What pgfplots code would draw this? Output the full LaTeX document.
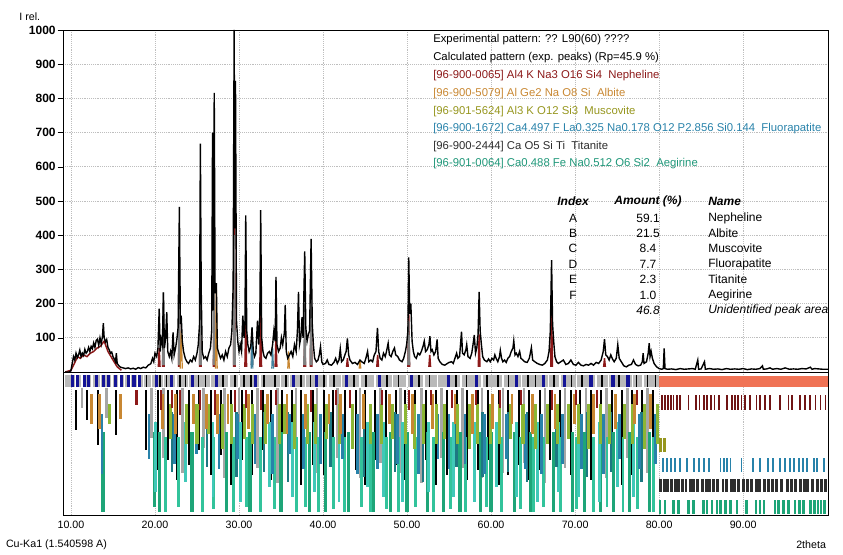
\documentclass[border=0pt]{standalone}
\usepackage{fontspec}
\setmainfont{Liberation Sans}
\usepackage{pgfplots}
\pgfplotsset{compat=1.18}
\definecolor{nephred}{RGB}{140,25,25}
\definecolor{albor}{RGB}{200,135,50}
\definecolor{muscol}{RGB}{150,150,30}
\definecolor{muscgr}{RGB}{140,182,52}
\definecolor{fluorbl}{RGB}{40,130,170}
\definecolor{titan}{RGB}{45,45,45}
\definecolor{aegir}{RGB}{30,165,120}
\definecolor{aegir2}{RGB}{50,195,155}
\definecolor{darkteal}{RGB}{30,120,130}
\definecolor{aegirtxt}{RGB}{30,150,120}
\definecolor{cyant}{RGB}{64,200,184}
\definecolor{salm}{RGB}{240,115,85}
\definecolor{expbl}{RGB}{20,20,150}
\definecolor{gridc}{RGB}{190,190,190}
\pgfplotsset{
  stick/.style n args={2}{draw=none, mark=none, forget plot,
    error bars/.cd, y dir=plus, y explicit, error mark=none,
    error bar style={draw=#1, line width=#2, solid}},
}
\begin{document}
\begin{tikzpicture}
\path[use as bounding box] (0,0) rectangle (632.25pt,415.5pt);
% ---------------- upper panel ----------------
\begin{axis}[
  at={(47.25pt,393pt)}, anchor=north west,
  scale only axis, width=573.75pt, height=256.5pt,
  xmin=9.05, xmax=100.1, ymin=0, ymax=1000,
  xtick={10,20,...,90}, xticklabels={}, xtick style={draw=none},
  ytick={100,200,...,1000},
  yticklabels={100,200,300,400,500,600,700,800,900,1000},
  ytick pos=left, tick align=outside, major tick length=4pt,
  ytick style={black, thin},
  yticklabel style={font=\fontsize{9}{10}\selectfont\bfseries, xshift=2pt},
  grid=major, grid style={densely dotted, gridc, line width=0.6pt},
  axis line style={black, line width=0.6pt},
  unbounded coords=jump,
]
% calculated pattern (dark red)
\addplot[nephred, line width=1.1pt] table {
9.3 0
10.0 5
10.5 30
10.8 45
11.1 40
11.5 50
11.9 45
12.3 55
12.7 60
13.1 70
13.5 75
13.95 90
14.4 60
15.0 35
15.5 15
16.0 5
nan nan
20.4 15
20.5 70
20.6 15
nan nan
20.9 15
21.0 120
21.1 15
nan nan
22.8 15
22.9 180
23.0 15
nan nan
25.3 15
25.4 170
25.5 15
nan nan
26.95 15
27.05 240
27.15 15
nan nan
29.35 15
29.45 500
29.55 15
nan nan
30.7 15
30.8 150
30.9 15
nan nan
32.48 15
32.58 200
32.68 15
nan nan
34.3 15
34.4 110
34.5 15
nan nan
37.72 15
37.82 90
37.92 15
nan nan
38.48 15
38.58 230
38.68 15
nan nan
42.8 15
42.9 40
43.0 15
nan nan
46.4 15
46.5 50
46.6 15
nan nan
50.1 15
50.2 170
50.3 15
nan nan
52.6 15
52.7 50
52.8 15
nan nan
58.48 15
58.58 110
58.68 15
nan nan
67.1 15
67.2 200
67.3 15
nan nan
73.4 15
73.5 40
73.6 15
};
% grey calculated spikes
\addplot[gray, line width=1.1pt] table {
20.9 20
21.0 233
21.1 20
nan nan
22.8 20
22.9 300
23.0 20
nan nan
25.3 20
25.4 250
25.5 20
nan nan
26.95 20
27.05 300
27.15 20
nan nan
29.35 20
29.45 400
29.55 20
nan nan
31.45 20
31.55 130
31.65 20
nan nan
37.72 20
37.82 200
37.92 20
nan nan
38.48 20
38.58 250
38.68 20
nan nan
50.1 20
50.2 150
50.3 20
};
% orange / blue-grey small calculated peaks
\addplot[albor, line width=0.9pt] table {
23.0 10
23.12 120
23.25 10
nan nan
27.2 10
27.3 260
27.4 10
nan nan
35.8 10
35.9 60
36.0 10
nan nan
44.3 10
44.4 35
44.5 10
};
\addplot[fluorbl!70!gray, line width=0.9pt] table {
31.45 10
31.55 130
31.65 10
nan nan
33.9 10
34.0 70
34.1 10
};
% experimental pattern (black)
\addplot[black, line width=1.05pt] table {
9.3 0
9.8 0
10.0 5
10.15 25
10.3 45
10.45 35
10.6 55
10.75 42
10.9 50
11.05 64
11.2 45
11.35 55
11.5 48
11.65 66
11.8 55
11.95 60
12.1 72
12.25 60
12.4 75
12.55 68
12.7 85
12.85 72
13.0 92
13.15 96
13.3 78
13.45 100
13.6 82
13.75 105
13.85 143
13.95 100
14.1 88
14.25 95
14.4 72
14.55 65
14.7 55
14.85 58
15.0 45
15.15 38
15.3 30
15.4 55
15.5 25
15.7 18
15.9 14
16.2 12
16.5 10
16.8 12
17.1 9
17.4 11
17.7 8
18.0 13
18.3 10
18.6 14
18.9 12
19.2 20
19.5 24
19.7 40
19.85 30
20.0 55
20.2 45
20.35 70
20.5 185
20.62 60
20.75 95
20.88 80
21.0 233
21.12 70
21.25 95
21.4 175
21.52 60
21.7 45
21.85 60
22.0 40
22.15 116
22.28 50
22.45 70
22.6 95
22.75 130
22.9 483
23.02 140
23.12 165
23.25 90
23.4 60
23.6 40
23.8 30
24.0 25
24.2 35
24.4 30
24.6 45
24.8 35
25.0 55
25.15 80
25.3 140
25.4 668
25.5 240
25.62 60
25.8 40
26.0 45
26.2 35
26.4 55
26.6 70
26.75 120
26.85 700
26.95 180
27.05 816
27.15 230
27.3 260
27.42 70
27.6 55
27.8 40
28.0 50
28.2 35
28.4 60
28.6 45
28.8 70
29.0 80
29.15 120
29.3 250
29.42 1000
29.5 420
29.58 851
29.7 150
29.85 90
30.0 60
30.15 80
30.3 60
30.45 165
30.6 100
30.7 130
30.8 458
30.92 120
31.05 80
31.2 60
31.4 75
31.55 130
31.7 60
31.85 45
32.0 55
32.2 150
32.35 80
32.48 170
32.58 473
32.7 100
32.85 60
33.0 45
33.2 40
33.4 55
33.6 60
33.8 50
34.0 80
34.15 120
34.3 90
34.4 278
34.52 80
34.7 60
34.9 70
35.05 100
35.2 80
35.4 115
35.5 196
35.62 60
35.8 40
36.0 50
36.2 60
36.4 45
36.6 80
36.8 60
36.95 120
37.08 234
37.2 80
37.35 100
37.5 160
37.62 100
37.82 353
37.95 130
38.1 90
38.25 110
38.4 120
38.58 389
38.72 140
38.85 80
39.0 40
39.2 30
39.4 35
39.55 50
39.7 74
39.85 30
40.0 22
40.3 25
40.5 35
40.7 22
41.0 20
41.3 28
41.5 40
41.7 25
41.9 35
42.05 68
42.2 30
42.4 35
42.6 50
42.75 60
42.9 98
43.05 50
43.2 35
43.5 25
43.8 28
44.1 22
44.4 35
44.6 30
44.9 25
45.1 40
45.3 60
45.45 30
45.7 35
45.9 30
46.1 50
46.3 60
46.48 129
46.62 60
46.8 40
47.0 35
47.2 55
47.4 45
47.55 60
47.75 84
47.9 50
48.1 45
48.3 60
48.5 70
48.65 50
48.9 45
49.1 35
49.4 30
49.6 40
49.8 60
49.95 80
50.1 120
50.2 335
50.32 170
50.45 200
50.6 90
50.75 60
50.9 45
51.1 40
51.3 55
51.5 50
51.7 60
51.9 75
52.05 90
52.2 60
52.4 65
52.6 80
52.72 105
52.85 60
53.0 65
53.2 50
53.4 60
53.58 95
53.7 40
53.9 30
54.2 22
54.5 20
54.8 25
55.0 28
55.3 30
55.5 25
55.7 40
55.9 55
56.05 40
56.25 45
56.48 118
56.6 55
56.8 50
57.0 65
57.1 80
57.25 45
57.5 40
57.7 55
57.85 80
58.0 108
58.15 55
58.3 70
58.45 110
58.58 234
58.7 120
58.85 80
59.0 45
59.2 35
59.5 30
59.7 38
59.9 30
60.1 40
60.3 35
60.45 50
60.6 40
60.8 30
61.0 45
61.1 63
61.25 40
61.4 30
61.6 35
61.8 28
62.0 40
62.2 45
62.4 60
62.6 70
62.7 91
62.85 50
63.0 55
63.2 45
63.4 60
63.55 40
63.8 35
64.0 30
64.3 28
64.55 40
64.8 71
64.95 35
65.2 30
65.5 25
65.8 22
66.1 20
66.4 25
66.7 35
66.9 60
67.05 120
67.2 327
67.32 140
67.45 90
67.6 45
67.8 30
68.0 25
68.3 30
68.6 35
68.9 22
69.2 25
69.5 35
69.8 22
70.1 20
70.4 28
70.7 20
71.0 18
71.3 22
71.6 20
71.9 25
72.2 20
72.5 28
72.8 25
73.1 35
73.35 60
73.5 96
73.65 50
73.85 45
74.05 35
74.25 50
74.45 38
74.65 30
74.9 40
75.08 80
75.25 40
75.5 30
75.8 18
76.1 15
76.4 20
76.7 22
76.95 35
77.2 22
77.5 18
77.8 20
78.0 30
78.1 55
78.2 25
78.5 30
78.7 55
78.82 84
78.92 45
79.05 60
79.2 40
79.4 25
79.7 15
80.0 10
80.3 8
80.5 10
80.6 69
80.7 10
81.0 8
81.5 9
82.0 7
82.5 10
83.0 8
83.5 9
84.0 10
84.3 8
84.6 35
84.7 8
85.0 9
85.4 30
85.5 8
86.0 10
86.5 8
87.0 9
87.5 7
88.0 10
88.5 8
89.0 9
89.5 8
90.0 10
90.5 7
91.0 9
91.5 8
92.0 10
92.3 18
92.4 8
92.8 9
93.2 12
93.5 8
94.0 10
94.5 8
95.0 12
95.5 8
96.0 9
96.5 8
97.0 10
97.5 9
98.0 14
98.2 8
98.5 10
99.0 9
99.5 8
100.1 8
};
\end{axis}
% ---------------- lower panel (peak markers) ----------------
\begin{axis}[
  at={(47.25pt,136.5pt)}, anchor=north west,
  scale only axis, width=573.75pt, height=107.25pt,
  xmin=9.05, xmax=100.1, ymin=0, ymax=143, y dir=reverse,
  xtick={10,20,...,90},
  xticklabels={10.00,20.00,30.00,40.00,50.00,60.00,70.00,80.00,90.00},
  xticklabel style={font=\fontsize{8}{9}\selectfont, yshift=-1pt},
  major tick length=0pt, ytick=\empty,
  xmajorgrids, grid style={densely dotted, gridc, line width=0.6pt},
  axis line style={black, line width=0.6pt},
]
% row 1: experimental peak positions
\addplot[fill=gray!55, draw=none, forget plot] coordinates {(9.3,3) (80,3) (80,15) (9.3,15)} -- cycle;
\addplot[fill=salm, draw=none, forget plot] coordinates {(80,4) (100.1,4) (100.1,15) (80,15)} -- cycle;
\addplot[stick={expbl}{2.4pt}] table[x index=0, y expr=3, y error index=1] {
10.2 12
10.8 12
11.6 12
12.1 12
13.0 12
13.9 12
14.5 12
15.3 12
16.0 12
16.8 12
17.5 12
18.2 12
20.2 12
22.0 12
24.5 12
27.3 12
32.0 12
36.5 12
39.2 12
42.8 12
46.7 12
50.5 12
54.9 12
58.3 12
63.0 12
66.2 12
68.7 12
71.9 12
74.5 12
76.3 12
};
\addplot[stick={black}{1.1pt}] table[x index=0, y expr=3, y error index=1] {
19.0 12
20.6 12
21.4 12
23.0 12
23.6 12
25.2 12
26.0 12
28.1 12
29.5 12
30.6 12
31.4 12
33.0 12
34.3 12
35.6 12
37.4 12
38.5 12
40.1 12
41.3 12
43.7 12
45.1 12
47.6 12
49.0 12
51.4 12
52.7 12
55.8 12
57.1 12
59.5 12
60.8 12
62.1 12
64.4 12
65.3 12
67.5 12
69.6 12
70.8 12
73.2 12
75.2 12
77.3 12
78.6 12
79.6 12
};
\addplot[stick={white}{1pt}] table[x index=0, y expr=3, y error index=1] {
10.5 12
11.3 12
12.5 12
13.5 12
14.9 12
15.7 12
16.4 12
17.1 12
17.9 12
18.6 12
19.6 12
21.0 12
22.5 12
24.0 12
26.6 12
28.8 12
30.0 12
32.5 12
34.9 12
36.0 12
37.9 12
40.6 12
42.2 12
44.4 12
46.2 12
48.3 12
50.0 12
52.0 12
53.6 12
56.4 12
58.9 12
61.4 12
63.6 12
66.8 12
68.2 12
70.2 12
72.5 12
74.0 12
76.8 12
78.1 12
};
% phases below 80 degrees (overlapping long markers)
\addplot[stick={gray!70}{2pt}] table[x index=0, y expr=16, y error index=1] {
11.3 20
14.2 30
19.6 50
21.0 70
23.3 85
25.8 60
28.3 90
30.0 70
32.2 80
34.6 95
36.8 75
39.3 85
41.7 70
44.4 90
46.8 75
49.2 85
51.7 95
54.1 70
56.6 80
58.9 90
61.4 85
63.9 75
66.4 95
68.8 80
71.3 85
73.7 90
76.2 70
78.6 85
};
\addplot[stick={black}{1.5pt}] table[x index=0, y expr=18, y error index=1] {
10.6 40
11.9 30
13.2 55
15.4 45
18.9 60
20.3 80
21.5 70
22.6 90
24.1 75
25.2 60
26.7 85
27.9 65
29.0 95
30.4 70
31.5 85
32.9 60
33.8 90
35.1 80
36.3 70
37.4 95
38.8 75
40.1 85
41.2 70
42.6 90
43.9 80
45.0 95
46.2 70
47.5 85
48.7 75
49.8 90
51.0 80
52.3 70
53.4 95
54.8 85
56.0 75
57.1 90
58.5 80
59.6 70
60.9 95
62.0 85
63.3 75
64.5 90
65.8 80
67.0 70
68.2 95
69.5 85
70.6 75
71.9 90
73.1 80
74.4 70
75.6 95
76.8 85
78.0 75
79.3 90
};
\addplot[stick={aegir}{2.4pt}] table[x index=0, y expr=60, y error index=1] {
13.8 80
19.9 75
20.5 80
24.4 80
28.5 80
31.3 80
35.0 80
38.4 80
40.3 80
43.0 80
46.0 80
48.0 80
50.0 80
52.4 80
54.3 80
56.3 80
58.7 80
60.0 80
62.8 80
64.7 80
67.4 80
69.7 80
71.1 80
73.0 80
74.6 80
76.5 80
78.9 80
};
\addplot[stick={aegir2}{2.2pt}] table[x index=0, y expr=65, y error index=1] {
21.2 75
22.8 70
25.6 75
27.0 72
29.3 75
30.9 70
32.6 75
34.2 72
36.8 75
37.9 70
39.5 75
41.3 72
42.5 75
44.6 70
45.7 75
47.6 72
49.0 75
51.0 70
53.2 75
55.2 72
57.0 75
59.5 70
61.2 75
63.5 72
65.0 75
66.2 70
68.3 75
70.2 72
72.2 75
73.8 70
75.7 75
77.4 72
79.3 75
};
\addplot[stick={cyant}{2.2pt}] table[x index=0, y expr=50, y error index=1] {
20.1 70
23.6 60
26.9 75
30.2 80
33.6 65
36.4 75
39.0 70
41.9 80
45.3 65
47.2 75
49.5 80
52.6 70
55.5 75
58.0 80
60.6 65
63.0 75
65.5 80
68.0 70
70.4 75
72.9 80
75.0 65
77.0 75
};
\addplot[stick={darkteal}{1.8pt}] table[x index=0, y expr=40, y error index=1] {
22.0 60
26.2 55
29.7 65
33.0 60
35.8 70
40.9 55
44.9 65
48.6 60
51.9 70
55.9 55
59.0 65
62.0 60
64.3 70
67.8 55
71.4 65
74.3 60
77.9 70
};
\addplot[stick={fluorbl}{2pt}] table[x index=0, y expr=42, y error index=1] {
13.7 60
19.3 45
22.3 50
24.9 40
27.6 55
29.8 45
31.9 50
34.0 60
36.0 40
37.7 55
39.7 50
42.3 45
44.1 60
46.5 55
48.9 50
51.4 60
53.7 45
55.0 55
56.9 50
59.2 60
61.8 45
64.1 55
66.0 60
68.5 50
70.8 55
73.4 60
75.3 45
77.7 55
79.6 50
};
\addplot[stick={muscgr}{2.3pt}] table[x index=0, y expr=32, y error index=1] {
14.6 20
21.8 35
23.8 40
25.0 40
26.4 30
28.0 45
29.1 40
30.6 35
31.6 40
33.1 40
34.8 40
35.4 30
36.6 45
38.2 40
39.1 40
40.4 35
42.0 40
43.5 45
45.6 40
47.0 40
48.3 35
49.8 40
50.9 45
52.0 40
53.5 40
54.5 35
56.0 40
57.4 45
58.4 40
59.9 40
61.0 40
62.3 35
63.8 40
65.3 45
66.7 40
67.9 40
69.2 35
70.4 40
71.6 45
73.0 40
74.1 40
75.9 35
76.8 40
78.3 45
79.8 40
};
\addplot[stick={albor}{2.1pt}] table[x index=0, y expr=22, y error index=1] {
12.4 30
13.4 35
15.9 25
20.9 35
22.4 40
24.6 30
26.1 35
27.4 40
28.7 30
31.1 35
33.4 30
35.7 40
37.9 35
40.7 30
42.1 40
44.8 35
47.9 30
50.6 40
53.0 35
55.7 30
57.8 40
60.2 35
62.5 30
64.9 40
67.6 35
69.9 30
72.2 40
74.8 35
77.1 30
79.0 35
};
\addplot[stick={nephred}{1.6pt}] table[x index=0, y expr=18, y error index=1] {
17.8 15
20.7 20
22.0 18
23.0 25
25.4 20
27.1 25
29.5 22
30.8 18
32.6 20
34.4 15
38.6 22
41.5 15
43.2 18
47.0 15
50.2 20
52.8 15
55.3 18
58.2 15
61.1 18
63.6 15
67.2 20
70.1 15
72.6 18
77.4 15
};
% phases above 80 degrees (one row each)
\addplot[stick={nephred!80!black}{1.3pt}] table[x index=0, y expr=23, y error index=1] {
80.3 15
80.7 15
81.1 15
81.4 15
81.7 15
82.1 15
82.5 15
83.5 15
84.4 15
84.8 15
85.3 15
85.7 15
86.2 15
86.6 15
87.1 15
88.1 15
88.7 15
89.0 15
89.4 15
89.8 15
90.2 15
90.8 15
91.6 15
92.0 15
92.6 15
93.2 15
94.4 15
95.4 15
95.8 15
96.8 15
97.4 15
98.0 15
98.6 15
99.2 15
99.8 15
};
\addplot[stick={muscol}{2.2pt}] table[x index=0, y expr=66, y error index=1] {
80.2 14
80.6 14
};
\addplot[stick={fluorbl}{1.4pt}] table[x index=0, y expr=86, y error index=1] {
80.44 14
80.9 14
81.4 14
81.9 14
82.5 14
83.3 14
84.1 14
84.7 14
85.3 14
85.9 14
87.3 14
87.7 14
88.1 14
88.5 14
89.8 14
91.2 14
92.0 14
93.0 14
93.6 14
94.4 14
95.0 14
95.6 14
96.1 14
96.6 14
97.1 14
97.6 14
98.4 14
98.8 14
99.6 14
};
\addplot[stick={titan}{2.2pt}] table[x index=0, y expr=107, y error index=1] {
80.2 13
80.6 13
81.0 13
81.5 13
81.9 13
82.3 13
82.8 13
83.2 13
83.7 13
84.1 13
84.6 13
85.2 13
85.6 13
86.0 13
86.5 13
87.0 13
87.6 13
88.0 13
88.6 13
89.0 13
89.5 13
90.0 13
90.5 13
91.0 13
91.6 13
92.0 13
92.5 13
93.0 13
93.5 13
94.0 13
94.6 13
95.3 13
95.8 13
96.2 13
96.8 13
97.3 13
97.7 13
98.2 13
98.8 13
99.3 13
99.8 13
};
\addplot[stick={aegir}{1.8pt}] table[x index=0, y expr=128, y error index=1] {
80.1 14
80.7 14
81.7 14
82.3 14
83.5 14
84.1 14
85.3 14
85.7 14
86.3 14
86.9 14
87.3 14
87.9 14
88.5 14
89.3 14
90.4 14
91.5 14
92.0 14
92.5 14
93.8 14
94.2 14
94.8 14
95.4 14
96.2 14
96.7 14
97.2 14
98.0 14
98.5 14
98.9 14
99.3 14
99.7 14
};
\end{axis}
% ---------------- texts ----------------
\node[anchor=west, font=\fontsize{8}{9}\selectfont] at (11pt,403pt) {I rel.};
\node[anchor=west, font=\fontsize{8}{9}\selectfont] at (1pt,6.75pt) {Cu-Ka1 (1.540598 A)};
\node[anchor=east, font=\fontsize{8}{9}\selectfont] at (623pt,6.75pt) {2theta};
\begin{scope}[every node/.style={anchor=west, font=\fontsize{8.5}{9}\selectfont, inner sep=0pt}]
\node[black] at (324.75pt,385.5pt) {Experimental pattern: ?? L90(60) ????};
\node[black] at (324.75pt,372pt) {Calculated pattern (exp. peaks) (Rp=45.9 \%)};
\node[nephred] at (324.75pt,358.5pt) {[96-900-0065] Al4 K Na3 O16 Si4\ \ Nepheline};
\node[albor] at (324.75pt,345pt) {[96-900-5079] Al Ge2 Na O8 Si\ \ Albite};
\node[muscol] at (324.75pt,331.5pt) {[96-901-5624] Al3 K O12 Si3\ \ Muscovite};
\node[fluorbl] at (324.75pt,318.75pt) {[96-900-1672] Ca4.497 F La0.325 Na0.178 O12 P2.856 Si0.144\ \ Fluorapatite};
\node[titan] at (324.75pt,305.25pt) {[96-900-2444] Ca O5 Si Ti\ \ Titanite};
\node[aegirtxt] at (324.75pt,292.5pt) {[96-901-0064] Ca0.488 Fe Na0.512 O6 Si2\ \ Aegirine};
\end{scope}
\begin{scope}[every node/.style={font=\fontsize{9}{10}\selectfont, inner sep=0pt}]
\node[anchor=center, font=\fontsize{9}{10}\selectfont\bfseries\itshape] at (429.75pt,264.75pt) {Index};
\node[anchor=center, font=\fontsize{9}{10}\selectfont\bfseries\itshape] at (486pt,264.75pt) {Amount (\%)};
\node[anchor=west, font=\fontsize{9}{10}\selectfont\bfseries\itshape] at (531pt,264.75pt) {Name};
\node at (429.75pt,252pt) {A}; \node at (486pt,252pt) {59.1}; \node[anchor=west] at (531pt,252pt) {Nepheline};
\node at (429.75pt,240.75pt) {B}; \node at (486pt,240.75pt) {21.5}; \node[anchor=west] at (531pt,240.75pt) {Albite};
\node at (429.75pt,229.5pt) {C}; \node at (486pt,229.5pt) {8.4}; \node[anchor=west] at (531pt,229.5pt) {Muscovite};
\node at (429.75pt,217.5pt) {D}; \node at (486pt,217.5pt) {7.7}; \node[anchor=west] at (531pt,217.5pt) {Fluorapatite};
\node at (429.75pt,206.25pt) {E}; \node at (486pt,206.25pt) {2.3}; \node[anchor=west] at (531pt,206.25pt) {Titanite};
\node at (429.75pt,194.25pt) {F}; \node at (486pt,194.25pt) {1.0}; \node[anchor=west] at (531pt,194.25pt) {Aegirine};
\node[font=\fontsize{9}{10}\selectfont\itshape] at (486pt,183pt) {46.8};
\node[anchor=west, font=\fontsize{9}{10}\selectfont\itshape] at (531pt,183pt) {Unidentified peak area};
\end{scope}
\end{tikzpicture}
\end{document}
